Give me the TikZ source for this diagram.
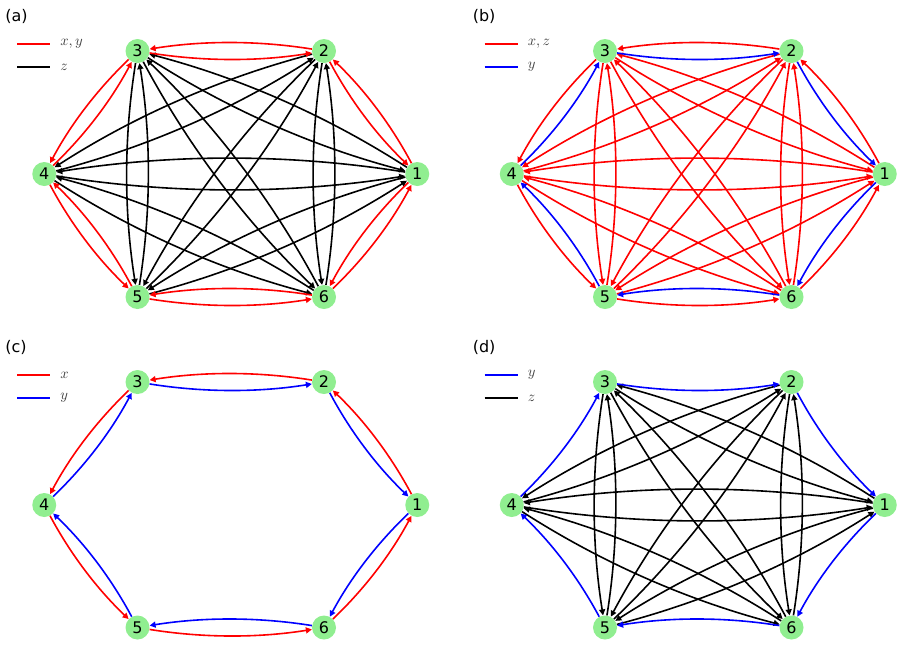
\documentclass[tikz,border=0pt]{standalone}
\usepackage[no-math]{fontspec}
\setmainfont{DejaVu Sans}
\usepackage{tikz}
\usetikzlibrary{arrows.meta}
\definecolor{nodegreen}{RGB}{144,238,144}
\tikzset{
  qubit/.style={circle, fill=nodegreen, minimum size=18pt, inner sep=0pt, font=\fontsize{12}{14}\selectfont},
  arc/.style={line width=1.2pt, -{Triangle[length=4.5pt,width=4.5pt]}, bend right=9.1, looseness=0.86},
  redarc/.style={arc, red},
  bluearc/.style={arc, blue},
  blackarc/.style={arc, black},
  legline/.style={line width=1.3pt},
  legtext/.style={anchor=west, inner sep=0pt, text=black!75, font=\fontsize{10.5}{12}\selectfont},
  panel/.style={anchor=west, inner sep=0pt, font=\fontsize{12}{14}\selectfont}
}

\begin{document}
\begin{tikzpicture}[x=0.75pt, y=-0.75pt]
    \useasboundingbox (0,0) rectangle (903,647);

    % Panel (a)
    \node (pa) [panel] at (5,16) {(a)};
    \draw [legline, red] (17,44) -- (50,44);
    \node (pa1) [legtext] at (60,44) {$x, y$};
    \draw [legline, black] (17,67) -- (50,67);
    \node (pa2) [legtext] at (60,67) {$z$};

    \node (a1) [qubit] at (417.25,174) {1};
    \node (a2) [qubit] at (324,51) {2};
    \node (a3) [qubit] at (137.5,51) {3};
    \node (a4) [qubit] at (44.25,174) {4};
    \node (a5) [qubit] at (137.5,297) {5};
    \node (a6) [qubit] at (324,297) {6};

    \draw [blackarc] (a1) to (a3); \draw [blackarc] (a3) to (a1);
    \draw [blackarc] (a1) to (a4); \draw [blackarc] (a4) to (a1);
    \draw [blackarc] (a1) to (a5); \draw [blackarc] (a5) to (a1);
    \draw [blackarc] (a2) to (a4); \draw [blackarc] (a4) to (a2);
    \draw [blackarc] (a2) to (a5); \draw [blackarc] (a5) to (a2);
    \draw [blackarc] (a2) to (a6); \draw [blackarc] (a6) to (a2);
    \draw [blackarc] (a3) to (a5); \draw [blackarc] (a5) to (a3);
    \draw [blackarc] (a3) to (a6); \draw [blackarc] (a6) to (a3);
    \draw [blackarc] (a4) to (a6); \draw [blackarc] (a6) to (a4);

    \draw [redarc] (a1) to (a2); \draw [redarc] (a2) to (a1);
    \draw [redarc] (a2) to (a3); \draw [redarc] (a3) to (a2);
    \draw [redarc] (a3) to (a4); \draw [redarc] (a4) to (a3);
    \draw [redarc] (a4) to (a5); \draw [redarc] (a5) to (a4);
    \draw [redarc] (a5) to (a6); \draw [redarc] (a6) to (a5);
    \draw [redarc] (a6) to (a1); \draw [redarc] (a1) to (a6);

    % Panel (b)
    \node (pb) [panel] at (472.5,16) {(b)};
    \draw [legline, red] (484.5,44) -- (517.5,44);
    \node (pb1) [legtext] at (527.5,44) {$x, z$};
    \draw [legline, blue] (484.5,67) -- (517.5,67);
    \node (pb2) [legtext] at (527.5,67) {$y$};

    \node (b1) [qubit] at (884.75,174) {1};
    \node (b2) [qubit] at (791.5,51) {2};
    \node (b3) [qubit] at (605,51) {3};
    \node (b4) [qubit] at (511.75,174) {4};
    \node (b5) [qubit] at (605,297) {5};
    \node (b6) [qubit] at (791.5,297) {6};

    \draw [redarc] (b1) to (b3); \draw [redarc] (b3) to (b1);
    \draw [redarc] (b1) to (b4); \draw [redarc] (b4) to (b1);
    \draw [redarc] (b1) to (b5); \draw [redarc] (b5) to (b1);
    \draw [redarc] (b2) to (b4); \draw [redarc] (b4) to (b2);
    \draw [redarc] (b2) to (b5); \draw [redarc] (b5) to (b2);
    \draw [redarc] (b2) to (b6); \draw [redarc] (b6) to (b2);
    \draw [redarc] (b3) to (b5); \draw [redarc] (b5) to (b3);
    \draw [redarc] (b3) to (b6); \draw [redarc] (b6) to (b3);
    \draw [redarc] (b4) to (b6); \draw [redarc] (b6) to (b4);

    \draw [redarc] (b2) to (b3); \draw [bluearc] (b3) to (b2);
    \draw [redarc] (b1) to (b2); \draw [bluearc] (b2) to (b1);
    \draw [redarc] (b6) to (b1); \draw [bluearc] (b1) to (b6);
    \draw [redarc] (b5) to (b6); \draw [bluearc] (b6) to (b5);
    \draw [redarc] (b4) to (b5); \draw [bluearc] (b5) to (b4);
    \draw [redarc] (b3) to (b4); \draw [bluearc] (b4) to (b3);

    % Panel (c)
    \node (pc) [panel] at (5,347) {(c)};
    \draw [legline, red] (17,375) -- (50,375);
    \node (pc1) [legtext] at (60,375) {$x$};
    \draw [legline, blue] (17,398) -- (50,398);
    \node (pc2) [legtext] at (60,398) {$y$};

    \node (c1) [qubit] at (417.25,505) {1};
    \node (c2) [qubit] at (324,382) {2};
    \node (c3) [qubit] at (137.5,382) {3};
    \node (c4) [qubit] at (44.25,505) {4};
    \node (c5) [qubit] at (137.5,627.5) {5};
    \node (c6) [qubit] at (324,627.5) {6};

    \draw [redarc] (c2) to (c3); \draw [bluearc] (c3) to (c2);
    \draw [redarc] (c1) to (c2); \draw [bluearc] (c2) to (c1);
    \draw [redarc] (c6) to (c1); \draw [bluearc] (c1) to (c6);
    \draw [redarc] (c5) to (c6); \draw [bluearc] (c6) to (c5);
    \draw [redarc] (c4) to (c5); \draw [bluearc] (c5) to (c4);
    \draw [redarc] (c3) to (c4); \draw [bluearc] (c4) to (c3);

    % Panel (d)
    \node (pd) [panel] at (472.5,347) {(d)};
    \draw [legline, blue] (484.5,375) -- (517.5,375);
    \node (pd1) [legtext] at (527.5,375) {$y$};
    \draw [legline, black] (484.5,398) -- (517.5,398);
    \node (pd2) [legtext] at (527.5,398) {$z$};

    \node (d1) [qubit] at (884.75,505) {1};
    \node (d2) [qubit] at (791.5,382) {2};
    \node (d3) [qubit] at (605,382) {3};
    \node (d4) [qubit] at (511.75,505) {4};
    \node (d5) [qubit] at (605,627.5) {5};
    \node (d6) [qubit] at (791.5,627.5) {6};

    \draw [blackarc] (d1) to (d3); \draw [blackarc] (d3) to (d1);
    \draw [blackarc] (d1) to (d4); \draw [blackarc] (d4) to (d1);
    \draw [blackarc] (d1) to (d5); \draw [blackarc] (d5) to (d1);
    \draw [blackarc] (d2) to (d4); \draw [blackarc] (d4) to (d2);
    \draw [blackarc] (d2) to (d5); \draw [blackarc] (d5) to (d2);
    \draw [blackarc] (d2) to (d6); \draw [blackarc] (d6) to (d2);
    \draw [blackarc] (d3) to (d5); \draw [blackarc] (d5) to (d3);
    \draw [blackarc] (d3) to (d6); \draw [blackarc] (d6) to (d3);
    \draw [blackarc] (d4) to (d6); \draw [blackarc] (d6) to (d4);

    \draw [bluearc] (d3) to (d2);
    \draw [bluearc] (d2) to (d1);
    \draw [bluearc] (d1) to (d6);
    \draw [bluearc] (d6) to (d5);
    \draw [bluearc] (d5) to (d4);
    \draw [bluearc] (d4) to (d3);

\end{tikzpicture}
\end{document}
